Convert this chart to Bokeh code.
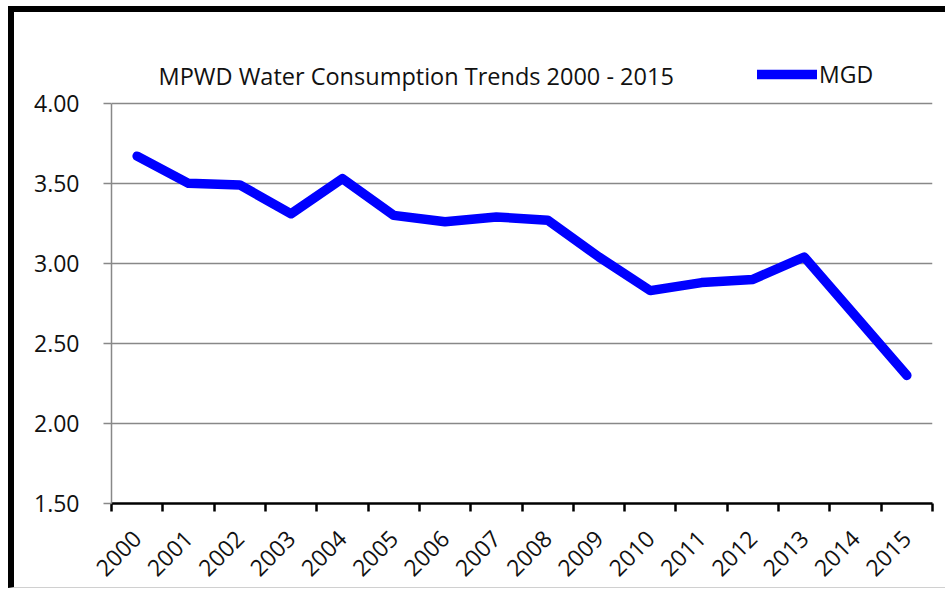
import math
from bokeh.plotting import figure
from bokeh.models import (ColumnDataSource, FixedTicker, NumeralTickFormatter, Range1d,
                          Legend, LegendItem, Label)
from bokeh.embed import file_html
from bokeh.resources import INLINE

years = [str(y) for y in range(2000, 2016)]
mgd = [3.67, 3.50, 3.49, 3.31, 3.53, 3.30, 3.26, 3.29, 3.27, 3.04, 2.83, 2.88, 2.90, 3.04, 2.67, 2.30]
y_ticks = [1.50, 2.00, 2.50, 3.00, 3.50, 4.00]
title_text = "MPWD Water Consumption Trends 2000 - 2015"
series_name = "MGD"

FONT = "Open Sans"
FS = "23px"
TXT = "#111111"

xpos = [i + 0.5 for i in range(len(years))]
src = ColumnDataSource(dict(x=xpos, y=mgd))

# frame extends above the top tick so the title and legend sit inside it
p = figure(width=937, height=582, output_backend="svg", toolbar_location=None,
           x_range=Range1d(0, len(years)), y_range=Range1d(y_ticks[0], 4.33),
           min_border_left=97, min_border_right=19, min_border_top=38, min_border_bottom=91)
p.styles = {"margin": "6px 0px 0px 8px",
            "border-left": "6px solid black", "border-top": "6px solid black",
            "border-bottom": "1px solid #d0d0d0"}
p.outline_line_color = None
p.background_fill_color = "white"
p.border_fill_color = "white"

r = p.line("x", "y", source=src, line_color="#0000FF", line_width=9.5,
           line_join="round", line_cap="round")

title = Label(x=47, y=428, x_units="screen", y_units="screen", text=title_text,
              text_font=FONT, text_font_size="23.5px", text_color=TXT,
              text_align="left", text_baseline="middle")
p.add_layout(title)

# x axis: labels at category centres, ticks at category boundaries
p.xaxis.ticker = FixedTicker(ticks=xpos, minor_ticks=list(range(len(years) + 1)))
p.xaxis.major_label_overrides = {x: y for x, y in zip(xpos, years)}
p.xaxis.major_label_orientation = math.pi / 4
p.xaxis.major_tick_out = 0
p.xaxis.major_tick_in = 0
p.xaxis.minor_tick_out = 8
p.xaxis.minor_tick_in = 0
p.xaxis.minor_tick_line_color = "black"
p.xaxis.minor_tick_line_width = 2.5
p.xaxis.axis_line_color = "black"
p.xaxis.axis_line_width = 2.5
p.xaxis.major_label_standoff = 23
p.xaxis.major_label_text_font = FONT
p.xaxis.major_label_text_font_size = FS
p.xaxis.major_label_text_color = TXT

p.yaxis.ticker = FixedTicker(ticks=y_ticks)
p.yaxis.bounds = (y_ticks[0], y_ticks[-1])
p.yaxis.formatter = NumeralTickFormatter(format="0.00")
p.yaxis.axis_line_color = "#888888"
p.yaxis.axis_line_width = 1.5
p.yaxis.major_tick_line_color = "#888888"
p.yaxis.major_tick_line_width = 1.5
p.yaxis.major_tick_out = 8
p.yaxis.major_tick_in = 0
p.yaxis.minor_tick_line_color = None
p.yaxis.major_label_standoff = 24
p.yaxis.major_label_text_font = FONT
p.yaxis.major_label_text_font_size = FS
p.yaxis.major_label_text_color = TXT

p.xgrid.grid_line_color = None
p.ygrid.ticker = FixedTicker(ticks=y_ticks)
p.ygrid.grid_line_color = "#888888"
p.ygrid.grid_line_width = 1.5

legend = Legend(items=[LegendItem(label=series_name, renderers=[r])],
                location=(646, 413), orientation="horizontal",
                border_line_color=None, background_fill_alpha=0,
                glyph_width=60, glyph_height=30, label_height=30, label_standoff=2,
                padding=0, margin=0, label_text_font=FONT, label_text_font_size=FS,
                label_text_color=TXT)
p.add_layout(legend, "center")

open("out.html", "w").write(file_html(p, INLINE))
